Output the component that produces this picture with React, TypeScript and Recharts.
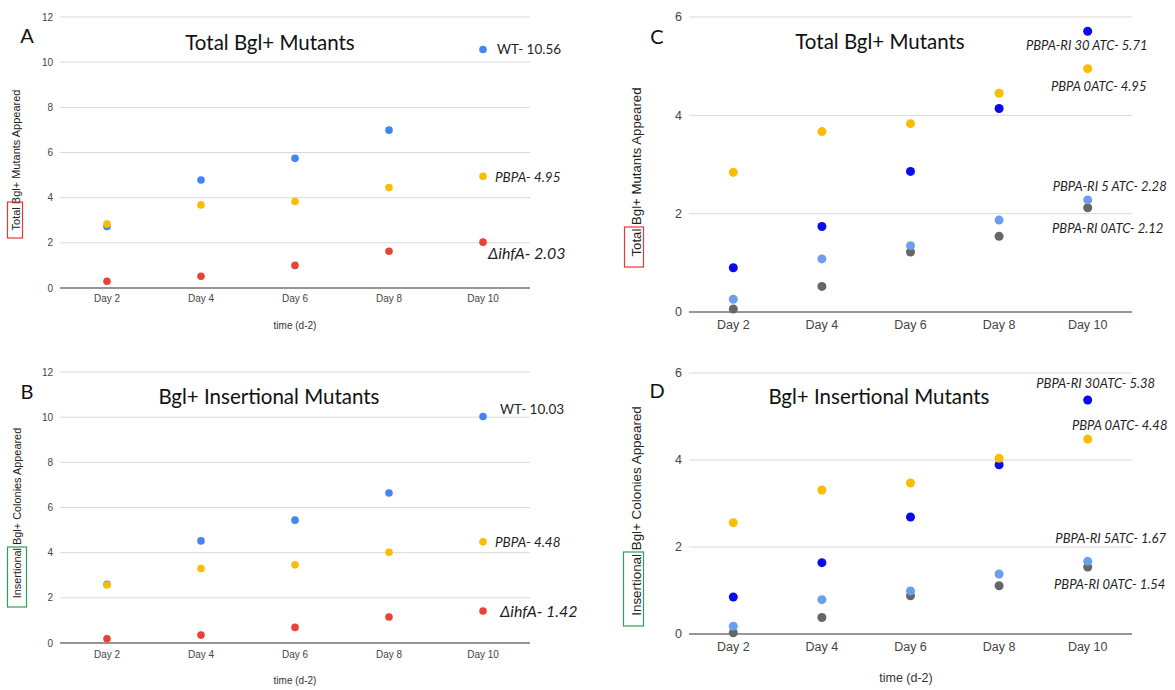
import React from 'react';
import { ComposedChart, Line, XAxis, YAxis, CartesianGrid } from 'recharts';

// ---------- data ----------
const days = ['Day 2', 'Day 4', 'Day 6', 'Day 8', 'Day 10'];

// Panel A – Total Bgl+ mutants
const totalWT = [2.72, 4.78, 5.74, 6.99, 10.56];
const totalPBPA = [2.83, 3.68, 3.83, 4.45, 4.95];
const totalIhfA = [0.3, 0.52, 1.0, 1.63, 2.03];

// Panel B – Bgl+ insertional mutants
const insWT = [2.6, 4.52, 5.44, 6.64, 10.03];
const insPBPA = [2.57, 3.3, 3.46, 4.02, 4.48];
const insIhfA = [0.19, 0.35, 0.69, 1.15, 1.42];

// Panel C – Total Bgl+ mutants (PBPA-RI)
const cRI30 = [0.9, 1.74, 2.86, 4.14, 5.71];
const cPBPA0 = [2.84, 3.67, 3.83, 4.45, 4.95];
const cRI5 = [0.26, 1.08, 1.35, 1.87, 2.28];
const cRI0 = [0.06, 0.52, 1.22, 1.54, 2.12];

// Panel D – Bgl+ insertional mutants (PBPA-RI)
const dRI30 = [0.85, 1.64, 2.69, 3.89, 5.38];
const dPBPA0 = [2.56, 3.31, 3.47, 4.04, 4.48];
const dRI5 = [0.18, 0.79, 0.99, 1.38, 1.67];
const dRI0 = [0.03, 0.38, 0.88, 1.11, 1.54];

const ticksAB = [0, 2, 4, 6, 8, 10, 12];
const ticksCD = [0, 2, 4, 6];

// ---------- styling / layout config ----------
const C_BLUE = '#4285F4';
const C_YELLOW = '#FBBC04';
const C_RED = '#EA4335';
const C_DBLUE = '#0a0af0';
const C_LBLUE = '#6d9eeb';
const C_GRAY = '#666666';

const LABEL_FONT = 'Lato, "Open Sans", sans-serif';
const AXIS_FONT = '"Liberation Sans", Arial, sans-serif';

type SeriesCfg = {
  key: string;
  values: number[];
  color: string;
  label: string;
  dx: number;
  dy: number;
  anchor: 'start' | 'middle';
  italic: boolean;
  size: number;
};

type PanelCfg = {
  left: number;
  top: number;
  width: number;
  height: number;
  plot: { l: number; t: number; r: number; b: number };
  domainMax: number;
  ticks: number[];
  fontSize: number;
  xTickMargin: number;
  dotR: number;
  series: SeriesCfg[];
};

const panels: PanelCfg[] = [
  {
    left: 0, top: 0, width: 590, height: 335,
    plot: { l: 60, t: 17, r: 530, b: 288 },
    domainMax: 12, ticks: ticksAB, fontSize: 10, xTickMargin: 1, dotR: 3.8,
    series: [
      { key: 'wt', values: totalWT, color: C_BLUE, label: 'WT- 10.56', dx: 14, dy: -1, anchor: 'start', italic: false, size: 13.5 },
      { key: 'pbpa', values: totalPBPA, color: C_YELLOW, label: 'PBPA- 4.95', dx: 12, dy: 1, anchor: 'start', italic: true, size: 13.5 },
      { key: 'ihfa', values: totalIhfA, color: C_RED, label: '\u0394ihfA- 2.03', dx: 5, dy: 10, anchor: 'start', italic: true, size: 16 },
    ],
  },
  {
    left: 0, top: 335, width: 590, height: 355,
    plot: { l: 60, t: 372, r: 530, b: 643 },
    domainMax: 12, ticks: ticksAB, fontSize: 10, xTickMargin: 1.5, dotR: 3.8,
    series: [
      { key: 'wt', values: insWT, color: C_BLUE, label: 'WT- 10.03', dx: 17, dy: -7, anchor: 'start', italic: false, size: 13.5 },
      { key: 'pbpa', values: insPBPA, color: C_YELLOW, label: 'PBPA- 4.48', dx: 12, dy: 0, anchor: 'start', italic: true, size: 13.5 },
      { key: 'ihfa', values: insIhfA, color: C_RED, label: '\u0394ihfA- 1.42', dx: 17, dy: 0, anchor: 'start', italic: true, size: 16 },
    ],
  },
  {
    left: 590, top: 0, width: 585, height: 335,
    plot: { l: 689, t: 17, r: 1132, b: 312 },
    domainMax: 6, ticks: ticksCD, fontSize: 12.5, xTickMargin: 2.5, dotR: 4.5,
    series: [
      { key: 'ri0', values: cRI0, color: C_GRAY, label: 'PBPA-RI 0ATC- 2.12', dx: 20, dy: 20, anchor: 'middle', italic: true, size: 13 },
      { key: 'ri5', values: cRI5, color: C_LBLUE, label: 'PBPA-RI 5 ATC- 2.28', dx: 22, dy: -14, anchor: 'middle', italic: true, size: 13 },
      { key: 'ri30', values: cRI30, color: C_DBLUE, label: 'PBPA-RI 30 ATC- 5.71', dx: -1, dy: 14, anchor: 'middle', italic: true, size: 13 },
      { key: 'pbpa0', values: cPBPA0, color: C_YELLOW, label: 'PBPA 0ATC- 4.95', dx: 11, dy: 17, anchor: 'middle', italic: true, size: 13 },
    ],
  },
  {
    left: 590, top: 335, width: 585, height: 355,
    plot: { l: 689, t: 373, r: 1132, b: 634 },
    domainMax: 6, ticks: ticksCD, fontSize: 12.5, xTickMargin: 2.5, dotR: 4.5,
    series: [
      { key: 'ri0', values: dRI0, color: C_GRAY, label: 'PBPA-RI 0ATC- 1.54', dx: 22, dy: 17, anchor: 'middle', italic: true, size: 13 },
      { key: 'ri5', values: dRI5, color: C_LBLUE, label: 'PBPA-RI 5ATC- 1.67', dx: 23, dy: -23, anchor: 'middle', italic: true, size: 13 },
      { key: 'ri30', values: dRI30, color: C_DBLUE, label: 'PBPA-RI 30ATC- 5.38', dx: 8, dy: -17, anchor: 'middle', italic: true, size: 13 },
      { key: 'pbpa0', values: dPBPA0, color: C_YELLOW, label: 'PBPA 0ATC- 4.48', dx: 32, dy: -14, anchor: 'middle', italic: true, size: 13 },
    ],
  },
];

const Y_AXIS_W = 30;
const X_AXIS_H = 20;

function makeDot(s: SeriesCfg, r: number) {
  return (p: any) => {
    const { cx, cy, index } = p;
    if (cx == null || cy == null) return <g key={`${s.key}-${index}`} />;
    return (
      <g key={`${s.key}-${index}`}>
        <circle cx={cx} cy={cy} r={r} fill={s.color} />
        {index === days.length - 1 ? (
          <text
            x={cx + s.dx}
            y={cy + s.dy}
            textAnchor={s.anchor}
            dominantBaseline="central"
            fontFamily={LABEL_FONT}
            fontStyle={s.italic ? 'italic' : 'normal'}
            fontSize={s.size}
            fill="#1f1f1f"
          >
            {s.label}
          </text>
        ) : null}
      </g>
    );
  };
}

function Panel({ cfg }: { cfg: PanelCfg }) {
  const data = days.map((d, i) => {
    const row: any = { day: d };
    cfg.series.forEach((s) => {
      row[s.key] = s.values[i];
    });
    return row;
  });
  const plotW = cfg.plot.r - cfg.plot.l;
  const pad = plotW / days.length / 2;
  const margin = {
    top: cfg.plot.t - cfg.top,
    left: cfg.plot.l - cfg.left - Y_AXIS_W,
    right: cfg.left + cfg.width - cfg.plot.r,
    bottom: cfg.top + cfg.height - cfg.plot.b - X_AXIS_H,
  };
  return (
    <div style={{ position: 'absolute', left: cfg.left, top: cfg.top }}>
      <ComposedChart width={cfg.width} height={cfg.height} data={data} margin={margin} style={{ overflow: 'visible' }}>
        <CartesianGrid vertical={false} stroke="#d9d9d9" strokeWidth={1} />
        <XAxis
          dataKey="day"
          type="category"
          height={X_AXIS_H}
          padding={{ left: pad, right: pad }}
          tickLine={false}
          tickMargin={cfg.xTickMargin}
          axisLine={{ stroke: '#7a7a7a', strokeWidth: 1.5 }}
          tick={{ fill: '#444', fontSize: cfg.fontSize, fontFamily: AXIS_FONT }}
          interval={0}
        />
        <YAxis
          width={Y_AXIS_W}
          domain={[0, cfg.domainMax]}
          ticks={cfg.ticks}
          tickLine={false}
          axisLine={false}
          tickMargin={1}
          tick={{ fill: '#444', fontSize: cfg.fontSize, fontFamily: AXIS_FONT }}
          interval={0}
        />
        {cfg.series.map((s) => (
          <Line
            key={s.key}
            dataKey={s.key}
            stroke="none"
            strokeWidth={0}
            dot={makeDot(s, cfg.dotR)}
            activeDot={false}
            isAnimationActive={false}
          />
        ))}
      </ComposedChart>
    </div>
  );
}

function YLabel({ x, cy, text, size, box, boxColor }: { x: number; cy: number; text: string; size: number; box: { x: number; y: number; w: number; h: number }; boxColor: string }) {
  return (
    <g>
      <text
        x={x}
        y={cy}
        transform={`rotate(-90 ${x} ${cy})`}
        textAnchor="middle"
        dominantBaseline="central"
        fontFamily={AXIS_FONT}
        fontSize={size}
        fill="#222"
      >
        {text}
      </text>
      <rect x={box.x} y={box.y} width={box.w} height={box.h} fill="none" stroke={boxColor} strokeWidth={1.2} />
    </g>
  );
}

export default function App() {
  return (
    <div style={{ position: 'absolute', left: 0, top: 0, width: 1175, height: 690, background: '#fff', overflow: 'hidden' }}>
      {panels.map((p, i) => (
        <Panel key={i} cfg={p} />
      ))}
      <svg width={1175} height={690} style={{ position: 'absolute', left: 0, top: 0, pointerEvents: 'none' }}>
        {/* panel letters */}
        <g fontFamily={LABEL_FONT} fontSize={20} fill="#111" dominantBaseline="central" textAnchor="middle">
          <text x={27} y={35}>A</text>
          <text x={27} y={391}>B</text>
          <text x={657} y={36}>C</text>
          <text x={657} y={390}>D</text>
        </g>
        {/* titles */}
        <g fontFamily={LABEL_FONT} fontSize={20.5} fill="#111" dominantBaseline="central" textAnchor="middle">
          <text x={270} y={42}>Total Bgl+ Mutants</text>
          <text x={269} y={396}>Bgl+ Insertional Mutants</text>
          <text x={880} y={41}>Total Bgl+ Mutants</text>
          <text x={879} y={396}>Bgl+ Insertional Mutants</text>
        </g>
        {/* x axis titles */}
        <g fontFamily={AXIS_FONT} fill="#333" dominantBaseline="central" textAnchor="middle">
          <text x={295} y={325} fontSize={10}>time (d-2)</text>
          <text x={295} y={680} fontSize={10}>time (d-2)</text>
          <text x={906} y={678} fontSize={12.5}>time (d-2)</text>
        </g>
        {/* y axis titles */}
        <YLabel x={16} cy={160} text="Total Bgl+ Mutants Appeared" size={11} box={{ x: 7.5, y: 202, w: 15, h: 36 }} boxColor="#e53935" />
        <YLabel x={17} cy={513} text="Insertional Bgl+ Colonies Appeared" size={10.9} box={{ x: 7.5, y: 547, w: 19, h: 60 }} boxColor="#2e9e5b" />
        <YLabel x={636} cy={172} text="Total Bgl+ Mutants Appeared" size={13.2} box={{ x: 624.5, y: 227, w: 19, h: 40 }} boxColor="#e53935" />
        <YLabel x={636} cy={511} text="Insertional Bgl+ Colonies Appeared" size={13.4} box={{ x: 623.5, y: 552, w: 20, h: 74 }} boxColor="#2e9e5b" />
      </svg>
    </div>
  );
}
